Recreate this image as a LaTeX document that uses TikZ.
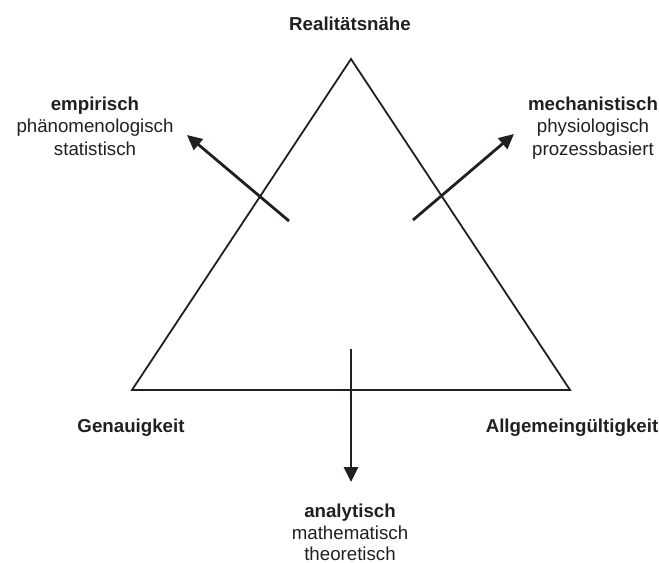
\documentclass[tikz,border=0pt]{standalone}
\usepackage{fontspec}
\setmainfont{Liberation Sans}
\usetikzlibrary{arrows.meta}
\definecolor{ink}{RGB}{35,31,32}
\begin{document}
\begin{tikzpicture}[x=1bp,y=-1bp,
  every node/.style={inner sep=0pt,anchor=base,text=ink,font=\fontsize{18.7bp}{22.5bp}\selectfont},
  headtxt/.style={font=\fontsize{18.7bp}{22.5bp}\selectfont\bfseries},
  tri/.style={draw=ink,line width=1.8bp,line join=miter},
  arr/.style={draw=ink,line width=2.8bp,-{Triangle[length=15bp,width=14bp]}}]
\useasboundingbox (0,0) rectangle (659,563);
% triangle
\coordinate (apex) at (351,59);
\coordinate (bl) at (132,390);
\coordinate (br) at (570,390);
\draw[tri] (apex) -- (bl) -- (br) -- cycle;
% arrows
\coordinate (t1) at (289,221);
\coordinate (h1) at (187,135);
\coordinate (t2) at (413,220);
\coordinate (h2) at (514,134);
\coordinate (t3) at (351,349);
\coordinate (h3) at (351,482);
\draw[arr] (t1) -- (h1);
\draw[arr] (t2) -- (h2);
\draw[arr] (t3) -- (h3);
% corner labels
\node[headtxt] (real) at (350,31) {Realitätsnähe};
\node[headtxt] (gen) at (131,432) {Genauigkeit};
\node[headtxt] (allg) at (572,432) {Allgemeingültigkeit};
% left group
\node[headtxt] (emp1) at (95,111) {empirisch};
\node (emp2) at (95,133) {phänomenologisch};
\node (emp3) at (95,156) {statistisch};
% right group
\node[headtxt] (mech1) at (593,111) {mechanistisch};
\node (mech2) at (593,133) {physiologisch};
\node (mech3) at (593,156) {prozessbasiert};
% bottom group
\node[headtxt] (ana1) at (350,517) {analytisch};
\node (ana2) at (350,539) {mathematisch};
\node (ana3) at (350,560) {theoretisch};
\end{tikzpicture}
\end{document}
